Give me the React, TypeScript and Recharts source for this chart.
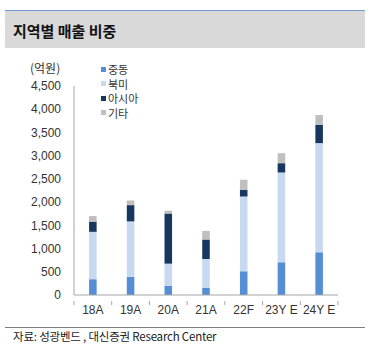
import { Bar, BarChart, XAxis, YAxis } from 'recharts';

const categories = ['18A', '19A', '20A', '21A', '22F', '23Y E', '24Y E'];
const middleEast = [340, 390, 200, 155, 510, 705, 920];
const northAmerica = [1020, 1195, 475, 620, 1610, 1933, 2350];
const asia = [220, 350, 1080, 420, 145, 200, 390];
const others = [120, 100, 60, 185, 215, 215, 215];
const yTicks = [0, 500, 1000, 1500, 2000, 2500, 3000, 3500, 4000, 4500];

const data = categories.map((name, i) => ({
  name,
  me: middleEast[i],
  na: northAmerica[i],
  asia: asia[i],
  etc: others[i],
}));

const series = [
  { key: 'me', label: '중동', color: '#558ed5' },
  { key: 'na', label: '북미', color: '#c6d9f1' },
  { key: 'asia', label: '아시아', color: '#17375e' },
  { key: 'etc', label: '기타', color: '#bfbfbf' },
];

const FONT = '"Liberation Sans", Arial, "Noto Sans CJK KR", sans-serif';
const KR = '"Noto Sans CJK KR", "Liberation Sans", sans-serif';

const W = 375;
const H = 351;
const M = { top: 86, right: 37, bottom: 36, left: 14 };
const Y_W = 60;
const band = (W - M.left - Y_W - M.right) / categories.length;

function XTick(props: any) {
  const { x, y, payload, index } = props;
  const last = index === categories.length - 1;
  return (
    <g>
      <line x1={x - band / 2} x2={x - band / 2} y1={y - 2} y2={y + 2} stroke='#a6a6a6' />
      {last && (
        <line x1={x + band / 2} x2={x + band / 2} y1={y - 2} y2={y + 2} stroke='#a6a6a6' />
      )}
      <text x={x} y={y + 11} textAnchor='middle' fontSize={12} fill='#333' fontFamily={FONT}>
        {payload.value}
      </text>
    </g>
  );
}

export default function App() {
  return (
    <div
      style={{
        position: 'fixed',
        left: 0,
        top: 0,
        width: W,
        height: H,
        background: '#fff',
        fontFamily: FONT,
      }}
    >
      <div
        style={{
          position: 'absolute',
          left: 5,
          top: 10,
          width: 360,
          height: 38,
          background: '#d9d9d9',
          borderTop: '1.5px solid #6f9ad6',
          boxSizing: 'border-box',
        }}
      />
      <div
        style={{
          position: 'absolute',
          left: 13,
          top: 20,
          fontFamily: KR,
          fontWeight: 700,
          fontSize: 15,
          lineHeight: '22px',
          color: '#111',
        }}
      >
        지역별 매출 비중
      </div>
      <div
        style={{
          position: 'absolute',
          left: 30,
          top: 60,
          fontFamily: KR,
          fontSize: 12,
          lineHeight: '16px',
          color: '#333',
        }}
      >
        (억원)
      </div>
      <div
        style={{
          position: 'absolute',
          left: 101,
          top: 62,
          fontFamily: KR,
          fontSize: 11,
          lineHeight: '14.5px',
          color: '#333',
          zIndex: 2,
        }}
      >
        {series.map((s) => (
          <div key={s.key} style={{ display: 'flex', alignItems: 'center', height: 14.5 }}>
            <span
              style={{
                display: 'inline-block',
                width: 5,
                height: 5,
                background: s.color,
                marginRight: 2,
              }}
            />
            {s.label}
          </div>
        ))}
      </div>
      <BarChart width={W} height={H} data={data} margin={M} barCategoryGap='60%'>
        <XAxis
          dataKey='name'
          stroke='#a6a6a6'
          tickLine={false}
          tick={<XTick />}
          interval={0}
          height={20}
        />
        <YAxis
          width={Y_W}
          domain={[0, 4500]}
          ticks={yTicks}
          interval={0}
          stroke='#a6a6a6'
          tickLine={false}
          tickMargin={7}
          tick={{ fontSize: 12, fill: '#333', fontFamily: FONT }}
          tickFormatter={(v: number) => v.toLocaleString('en-US')}
        />
        {series.map((s) => (
          <Bar key={s.key} dataKey={s.key} stackId='a' fill={s.color} isAnimationActive={false} />
        ))}
      </BarChart>
      <div
        style={{
          position: 'absolute',
          left: 5,
          top: 327,
          width: 360,
          height: 0,
          borderTop: '1.5px solid #7f7f7f',
        }}
      />
      <div
        style={{
          position: 'absolute',
          left: 13,
          top: 329,
          fontFamily: KR,
          fontSize: 11.5,
          letterSpacing: -0.2,
          lineHeight: '15px',
          color: '#222',
        }}
      >
        자료: 성광벤드 , 대신증권 Research Center
      </div>
    </div>
  );
}
